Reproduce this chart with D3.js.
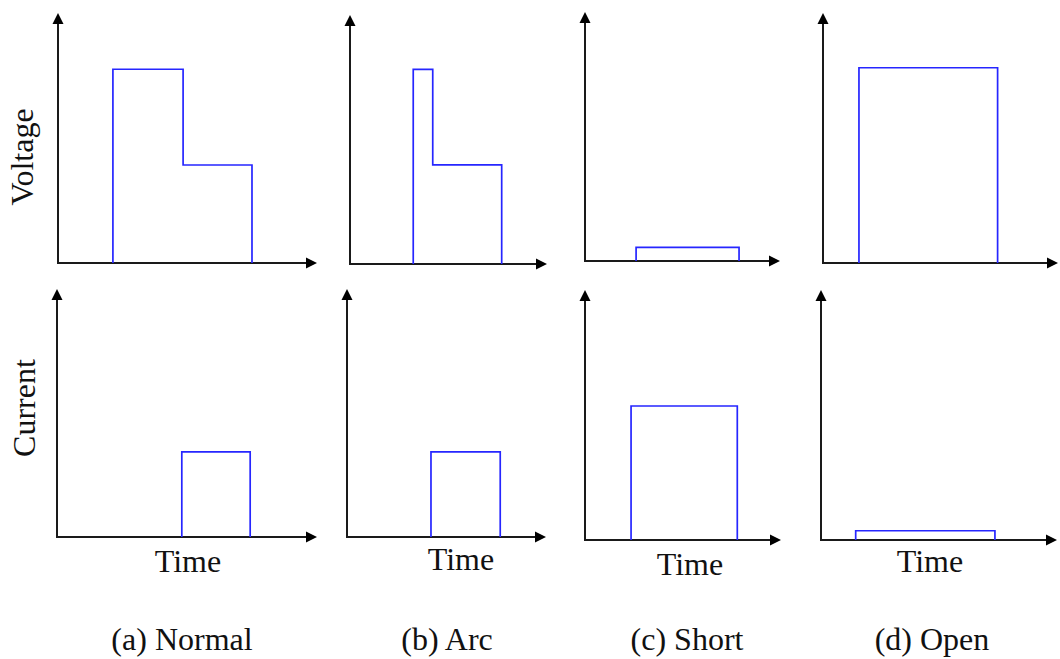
<!DOCTYPE html>
<html>
<head>
<meta charset="utf-8">
<script src="https://cdn.jsdelivr.net/npm/d3@7"></script>
<style>
  html, body { margin: 0; padding: 0; background: #fff; }
  svg { display: block; }
</style>
</head>
<body>
<svg id="chart" width="1060" height="659"></svg>
<script>
// ---- Data (time and amplitude in arbitrary units, axis spans 0..10) ----
const categories = ["(a) Normal", "(b) Arc", "(c) Short", "(d) Open"];
const rowLabels = ["Voltage", "Current"];
const timeLabel = "Time";

// Breakpoint times of each step waveform (rise, [steps], fall)
const voltageTimes = [[2.12, 4.83, 7.49], [3.21, 4.20, 7.70], [2.62, 7.90], [1.53, 7.43]];
// Level held after each breakpoint (except the last, which returns to 0)
const voltageLevels = [[7.75, 3.92], [7.82, 3.98], [0.55], [7.81]];

const currentTimes = [[4.80, 7.43], [4.22, 7.70], [2.35, 7.77], [1.47, 7.37]];
const currentLevels = [[3.43], [3.43], [5.36], [0.37]];

// ---- Layout (pixel geometry of each small axes frame) ----
const layout = {
  voltage: [
    { x0: 58, x1: 317, y0: 263, y1: 13 },
    { x0: 350, x1: 547, y0: 264, y1: 15 },
    { x0: 585, x1: 780, y0: 261, y1: 12 },
    { x0: 823, x1: 1058, y0: 263, y1: 13 }
  ],
  current: [
    { x0: 57, x1: 317, y0: 537, y1: 289 },
    { x0: 347, x1: 546, y0: 537, y1: 289 },
    { x0: 585, x1: 781, y0: 540, y1: 290 },
    { x0: 821, x1: 1057, y0: 540, y1: 290 }
  ],
  timeLabelPos: [[188, 572], [461, 570], [690, 575], [930, 572]],
  captionPos: [[182, 650], [447, 650], [687, 650], [932, 650]],
  rowLabelPos: [[33, 157], [35, 408]]
};

const svg = d3.select("#chart");
const axisColor = "#1a1a1a";
const pulseColor = "#2626ff";
const fontSize = 32;
const fontFamily = "'Liberation Serif', 'Times New Roman', Times, serif";

function drawPanel(frame, times, levels) {
  const x = d3.scaleLinear().domain([0, 10]).range([frame.x0, frame.x1]);
  const y = d3.scaleLinear().domain([0, 10]).range([frame.y0, frame.y1]);
  const g = svg.append("g");

  g.append("line")
    .attr("x1", x(0)).attr("x2", x(10) - 6)
    .attr("y1", y(0)).attr("y2", y(0))
    .attr("stroke", axisColor).attr("stroke-width", 2);
  g.append("line")
    .attr("x1", x(0)).attr("x2", x(0))
    .attr("y1", y(0) + 1).attr("y2", y(10) + 6)
    .attr("stroke", axisColor).attr("stroke-width", 2);

  const ax = x(10), ay = y(0);
  g.append("path")
    .attr("d", `M${ax},${ay} L${ax - 11},${ay - 5.5} L${ax - 11},${ay + 5.5} Z`)
    .attr("fill", "#000");
  const bx = x(0), by = y(10);
  g.append("path")
    .attr("d", `M${bx},${by} L${bx - 5.5},${by + 11} L${bx + 5.5},${by + 11} Z`)
    .attr("fill", "#000");

  const pts = [[times[0], 0]];
  levels.forEach((v, i) => pts.push([times[i], v]));
  pts.push([times[times.length - 1], 0]);
  const line = d3.line()
    .x(d => x(d[0]))
    .y(d => y(d[1]))
    .curve(d3.curveStepAfter);
  g.append("path")
    .attr("d", line(pts))
    .attr("fill", "none")
    .attr("stroke", pulseColor)
    .attr("stroke-width", 1.7)
    .attr("stroke-linejoin", "miter");
}

function addText(sel) {
  return sel.attr("font-family", fontFamily)
    .attr("font-size", fontSize)
    .attr("fill", "#111")
    .attr("text-anchor", "middle");
}

categories.forEach((c, i) => {
  drawPanel(layout.voltage[i], voltageTimes[i], voltageLevels[i]);
  drawPanel(layout.current[i], currentTimes[i], currentLevels[i]);

  addText(svg.append("text"))
    .attr("x", layout.timeLabelPos[i][0])
    .attr("y", layout.timeLabelPos[i][1])
    .text(timeLabel);

  addText(svg.append("text"))
    .attr("x", layout.captionPos[i][0])
    .attr("y", layout.captionPos[i][1])
    .text(c);
});

rowLabels.forEach((r, i) => {
  const [px, py] = layout.rowLabelPos[i];
  addText(svg.append("text"))
    .attr("transform", `translate(${px},${py}) rotate(-90)`)
    .text(r);
});
</script>
</body>
</html>
